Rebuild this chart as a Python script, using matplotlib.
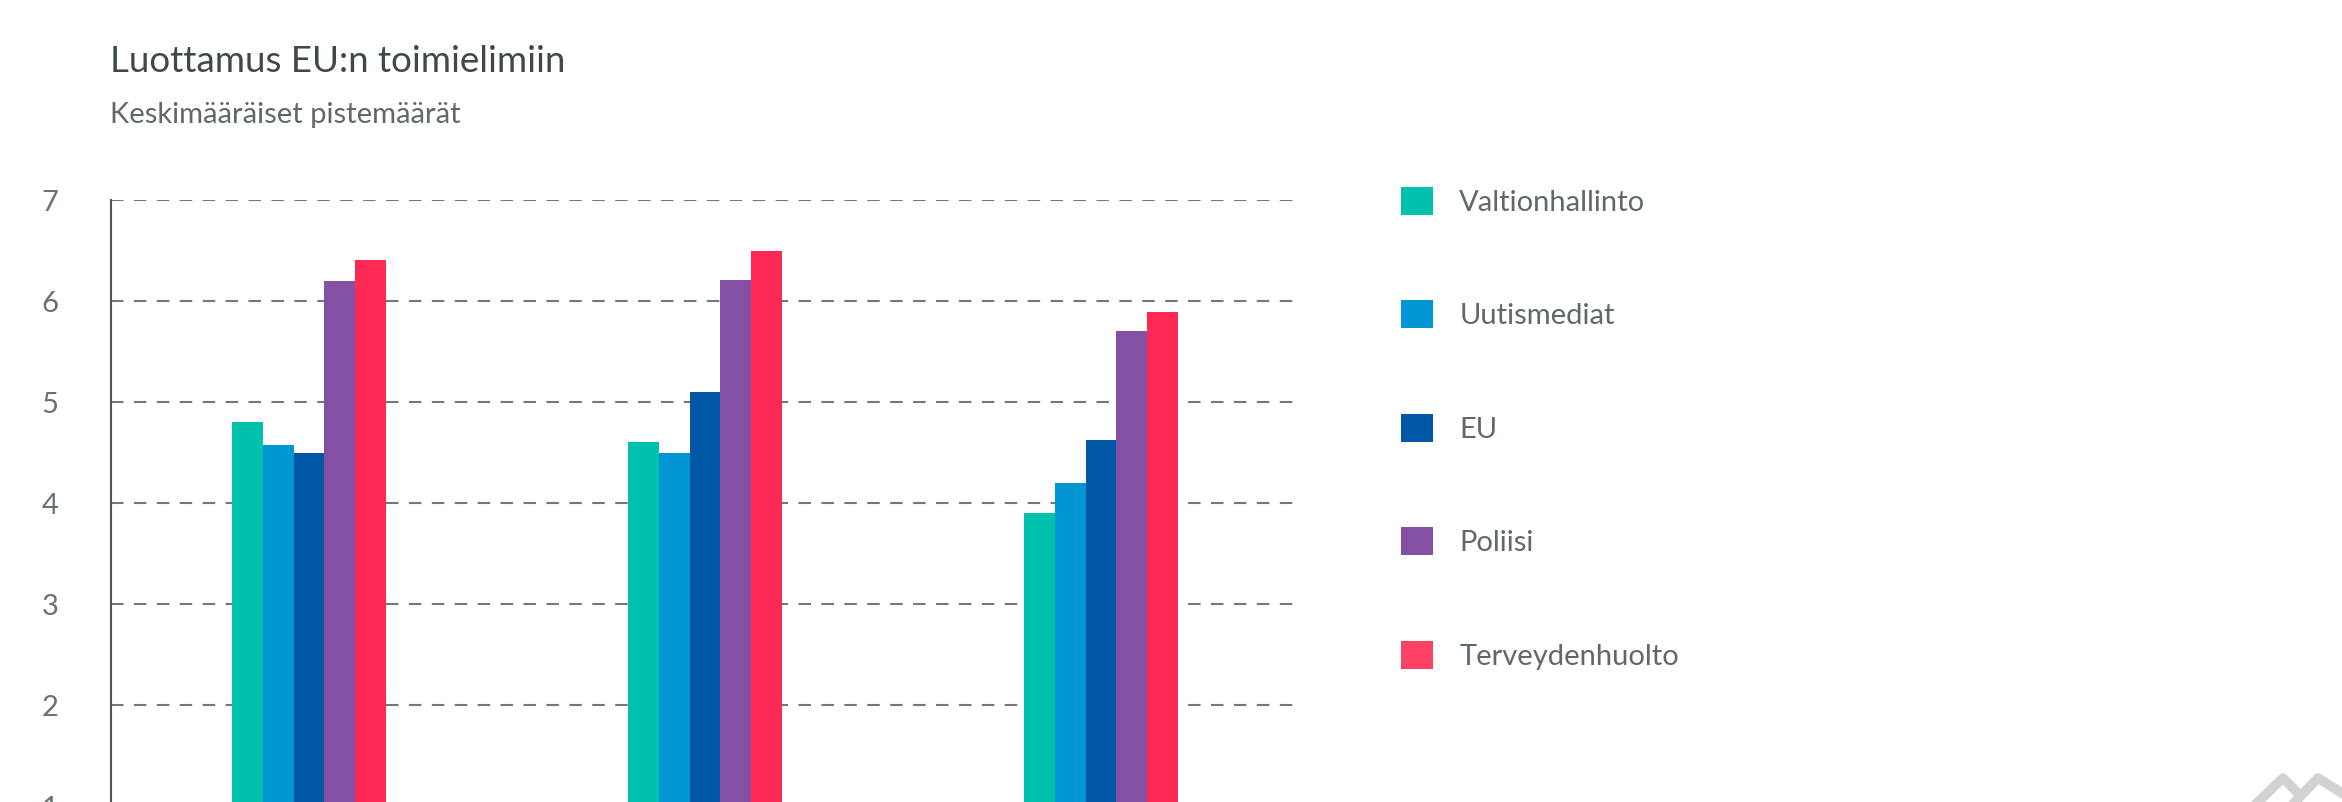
import numpy as np
import matplotlib.pyplot as plt
from matplotlib.patches import Patch
from matplotlib.lines import Line2D

# data (x category labels are cut off in the picture)
groups = [0, 1, 2]
series = ["Valtionhallinto", "Uutismediat", "EU", "Poliisi", "Terveydenhuolto"]
valtionhallinto = [4.8, 4.6, 3.9]
uutismediat = [4.57, 4.5, 4.2]
eu = [4.5, 5.1, 4.62]
poliisi = [6.2, 6.21, 5.7]
terveydenhuolto = [6.41, 6.5, 5.89]
yticks = [1, 2, 3, 4, 5, 6, 7]

colors = ["#00c1ae", "#0096d4", "#0057a5", "#8350a3", "#ff2956"]
legend_colors = ["#00c1ae", "#0096d4", "#0057a5", "#8350a3", "#ff4163"]

plt.rcParams['font.family'] = ['Lato', 'DejaVu Sans']

W, H = 2342, 802
fig = plt.figure(figsize=(W / 100, H / 100), dpi=100)
ax = fig.add_axes([0.0474, -0.005, 0.5073, 0.7556])

values = [valtionhallinto, uutismediat, eu, poliisi, terveydenhuolto]
w = 0.0775
x = np.array(groups)
for i, (vals, c) in enumerate(zip(values, colors)):
    ax.bar(x + (i - 2) * w, vals, width=w, color=c, zorder=3)

ax.set_xlim(-0.5, 2.5)
ax.set_ylim(1, 7)
ax.set_yticks(yticks)
ax.set_xticks([])
ax.yaxis.grid(True, color="#777777", linestyle=(0, (6, 5)), linewidth=1.5, zorder=0)
for s in ["top", "right", "bottom"]:
    ax.spines[s].set_visible(False)
ax.spines["left"].set_color("#555555")
ax.spines["left"].set_linewidth(1.5)
ax.tick_params(axis="y", length=0, pad=38, labelsize=21, labelcolor="#6a7070")

fig.text(0.047, 0.91, "Luottamus EU:n toimielimiin", fontsize=26.5,
         color="#404848", va="baseline")
fig.text(0.047, 0.847, "Keskimääräiset pistemäärät", fontsize=21,
         color="#606868", va="baseline")

handles = [Patch(facecolor=c, edgecolor="none") for c in legend_colors]
leg = fig.legend(handles, series, loc="upper left", bbox_to_anchor=(0.587, 0.8),
                 frameon=False, fontsize=21, labelspacing=2.9,
                 handlelength=1.1, handleheight=1.1, handletextpad=0.9)
for t in leg.get_texts():
    t.set_color("#606868")

# faint logo, cut off at the bottom-right corner
for px in ([2255, 2283, 2300], [2292, 2318, 2345]):
    fig.add_artist(Line2D([p / W for p in px], [(H - 805) / H, (H - 778) / H, (H - 795) / H],
                          color="#d2d2d2", linewidth=7, solid_joinstyle="round"))

fig.savefig("out.png", dpi=100)
